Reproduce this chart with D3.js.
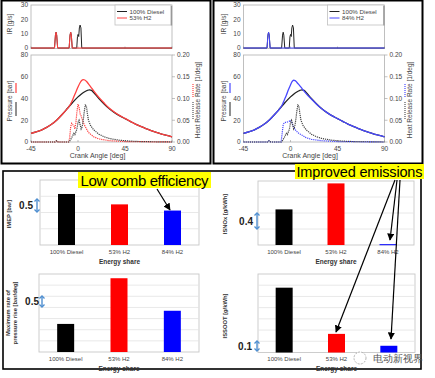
<!DOCTYPE html>
<html><head><meta charset="utf-8">
<script src="https://cdn.jsdelivr.net/npm/d3@7/dist/d3.min.js"></script>
<style>
body{margin:0;background:#fff}
svg{display:block}
text{font-family:"Liberation Sans",Arial,sans-serif}
</style>
</head><body>
<svg id="c" width="435" height="378"></svg>
<script>
// ---------------- DATA ----------------
const crankTicks = [-45, 0, 45, 90];
const irTicks = [0, 10, 20, 30];
const pressureTicks = [0, 20, 40, 60, 80];
const hrrTicks = [0, 0.05, 0.10, 0.15, 0.20];

const irDiesel = [[-45,0],[-22.5,0],[-21.6,9],[-21,11],[-20.4,9],[-19.5,0],[-8.5,0],[-7.6,9],[-7,11],[-6.4,9],[-5.5,0],[-1.2,0],[-0.5,8],[0.1,9.5],[0.7,8],[1.3,14],[2,16],[2.8,14],[3.6,0],[90,0]];
const irH2_53 = [[-45,0],[-22.5,0],[-21.6,9],[-21,11],[-20.4,9],[-19.5,0],[-8.5,0],[-7.6,9],[-7,11],[-6.4,9],[-5.5,0],[90,0]];
const irH2_84 = [[-45,0],[-22.5,0],[-21.6,9],[-21,11],[-20.4,9],[-19.5,0],[90,0]];

const pDiesel = [[-45,8],[-40,9.3],[-35,11],[-30,13.5],[-25,16.5],[-20,20.5],[-15,25.5],[-10,31],[-5,36.5],[0,41.5],[3,44],[6,46],[9,47.5],[11,48],[13,47.5],[15,45.5],[20,40],[25,35],[30,30.5],[35,27],[40,24],[45,21.5],[50,19],[55,16.5],[60,14.3],[65,12.3],[70,10.5],[75,8.8],[80,7.3],[85,6],[90,4.8]];
const pH2_53 = [[-45,8],[-40,9.3],[-35,11],[-30,13.5],[-25,16.5],[-20,20.5],[-15,25.5],[-10,31],[-8,33.5],[-6,37],[-4,41.5],[-2,46],[0,50.5],[2,54.5],[3.5,56.5],[5,57.3],[6.5,57],[8,55.8],[10,53.5],[12,51],[15,47],[20,41],[25,35.8],[30,31],[35,27.3],[40,24.2],[45,21.7],[50,19],[55,16.5],[60,14.3],[65,12.3],[70,10.5],[75,8.8],[80,7.3],[85,6],[90,4.8]];
const pH2_84 = [[-45,8],[-40,9.3],[-35,11],[-30,13.5],[-25,16.5],[-20,20.5],[-15,25.5],[-10,31],[-8,34],[-6,38.5],[-4,43],[-2,48],[0,52.5],[1.5,55.5],[3,56.8],[4.5,56.5],[6,55],[8,52.8],[10,50.5],[12,48],[15,44.5],[20,39.5],[25,34.8],[30,30.5],[35,27],[40,24],[45,21.5],[50,19],[55,16.5],[60,14.3],[65,12.3],[70,10.5],[75,8.8],[80,7.3],[85,6],[90,4.8]];

const hrrDiesel = [[-45,0],[-22,0],[-20.5,0.003],[-19,0],[-9,0],[-8,0.002],[-6,0.01],[-4,0.02],[-3,0.017],[-1,0.03],[0,0.045],[1,0.05],[2,0.04],[3,0.03],[4,0.035],[5,0.05],[6,0.07],[7,0.085],[8,0.083],[9,0.065],[10,0.05],[12,0.038],[15,0.028],[20,0.018],[25,0.012],[30,0.008],[40,0.004],[50,0.002],[60,0.001],[90,0]];
const hrrH2_53 = [[-45,0],[-22,0],[-20.5,0.003],[-19,0],[-9,0],[-8,0.01],[-7,0.035],[-6,0.043],[-5,0.04],[-4,0.038],[-3,0.03],[-2,0.045],[-1,0.07],[0,0.087],[1,0.08],[2,0.065],[3,0.06],[5,0.045],[7,0.035],[10,0.022],[15,0.012],[20,0.007],[30,0.003],[45,0.001],[90,0]];
const hrrH2_84 = [[-45,0],[-22,0],[-20.5,0.003],[-19,0],[-9,0],[-8,0.02],[-7,0.04],[-6,0.044],[-5,0.045],[-3,0.046],[-1,0.048],[0,0.05],[1,0.047],[2,0.04],[4,0.03],[6,0.024],[8,0.02],[10,0.017],[15,0.01],[20,0.006],[30,0.003],[45,0.001],[90,0]];

const categories = ["100% Diesel", "53% H2", "84% H2"];
const imep = [7.57, 7.25, 7.06];
const maxPressureRise = [1.26, 3.31, 1.85];
const isnox = [0.89, 1.54, 0.02];
const issoot = [0.578, 0.166, 0.06];

// ---------------- DRAW ----------------
const svg = d3.select("#c");
const dieselCol = "#222", redCol = "#ff4040", blueCol = "#4848ff";
const barColors = ["#000000", "#ff0000", "#0000ff"];

function vtext(g, x, y, str, size, weight, fill) {
  g.append("text").attr("transform", `translate(${x},${y}) rotate(-90)`)
    .attr("text-anchor","middle").attr("font-size", size).attr("font-weight", weight||"normal")
    .attr("fill", fill||"#333").text(str);
}

function topPanel(x0, x1, irH2, pH2, hrrH2, col, legendLabel, labX, hrrLabX) {
  const g = svg.append("g");
  const x = d3.scaleLinear().domain([-45, 90]).range([x0, x1]);
  const yIR = d3.scaleLinear().domain([0, 30]).range([48, 5]);
  const yP = d3.scaleLinear().domain([0, 80]).range([142, 55]);
  const yH = d3.scaleLinear().domain([0, 0.2]).range([142, 55]);
  g.append("rect").attr("x", x0).attr("y", 5).attr("width", x1-x0).attr("height", 43.5)
    .attr("fill","none").attr("stroke","#b0b0b0").attr("stroke-width",0.8);
  g.append("rect").attr("x", x0).attr("y", 55).attr("width", x1-x0).attr("height", 87)
    .attr("fill","none").attr("stroke","#b0b0b0").attr("stroke-width",0.8);
  irTicks.forEach(t => {
    g.append("text").attr("x", x0-3).attr("y", yIR(t)+2.3).attr("text-anchor","end")
      .attr("font-size",6.5).attr("fill","#444").text(t);
  });
  pressureTicks.forEach(t => {
    g.append("text").attr("x", x0-3).attr("y", yP(t)+2.3).attr("text-anchor","end")
      .attr("font-size",6.5).attr("fill","#444").text(t);
  });
  hrrTicks.forEach(t => {
    g.append("line").attr("x1", x1).attr("x2", x1+3).attr("y1", yH(t)).attr("y2", yH(t)).attr("stroke","#999").attr("stroke-width",0.6);
    g.append("text").attr("x", x1+5).attr("y", yH(t)+2.3).attr("text-anchor","start")
      .attr("font-size",6.5).attr("fill","#444").text(d3.format(".2f")(t));
  });
  crankTicks.forEach(t => {
    g.append("text").attr("x", x(t)).attr("y", 151).attr("text-anchor","middle")
      .attr("font-size",6.5).attr("fill","#444").text(t);
    g.append("line").attr("x1", x(t)).attr("x2", x(t)).attr("y1", 142).attr("y2", 140).attr("stroke","#999").attr("stroke-width",0.6);
    g.append("line").attr("x1", x(t)).attr("x2", x(t)).attr("y1", 48.5).attr("y2", 46.5).attr("stroke","#999").attr("stroke-width",0.6);
  });
  g.append("text").attr("x", (x0+x1)/2-4).attr("y", 158).attr("text-anchor","middle")
    .attr("font-size",7).attr("fill","#444").text("Crank Angle [deg]");
  vtext(g, labX, 24, "IR [g/s]", 6.5, "normal", "#444");
  vtext(g, labX, 101, "Pressure [bar]", 6.5, "normal", "#444");
  g.append("line").attr("x1", labX+4).attr("x2", labX+4).attr("y1", 83).attr("y2", 93).attr("stroke", col).attr("stroke-width",1.2);
  g.append("line").attr("x1", labX+4).attr("x2", labX+4).attr("y1", 102).attr("y2", 116).attr("stroke", dieselCol).attr("stroke-width",1);
  vtext(g, hrrLabX, 100, "Heat Release Rate [1/deg]", 6.5, "normal", "#444");
  g.append("line").attr("x1", hrrLabX-7).attr("x2", hrrLabX-7).attr("y1", 84).attr("y2", 97).attr("stroke", col).attr("stroke-width",1.2).attr("stroke-dasharray","1,1");
  g.append("line").attr("x1", hrrLabX-7).attr("x2", hrrLabX-7).attr("y1", 102).attr("y2", 120).attr("stroke", "#555").attr("stroke-width",1.2).attr("stroke-dasharray","1,1");

  const lineIR = d3.line().x(d => x(d[0])).y(d => yIR(d[1]));
  const lineP = d3.line().x(d => x(d[0])).y(d => yP(d[1])).curve(d3.curveMonotoneX);
  const lineH = d3.line().x(d => x(d[0])).y(d => yH(d[1]));
  g.append("path").attr("d", lineIR(irDiesel)).attr("fill","none").attr("stroke",dieselCol).attr("stroke-width",1);
  g.append("path").attr("d", lineIR(irH2)).attr("fill","none").attr("stroke",col).attr("stroke-width",1);
  g.append("path").attr("d", lineH(hrrH2)).attr("fill","none").attr("stroke",col).attr("stroke-width",1.2).attr("stroke-dasharray","1.2,0.9");
  g.append("path").attr("d", lineH(hrrDiesel)).attr("fill","none").attr("stroke","#444").attr("stroke-width",1.2).attr("stroke-dasharray","1.2,0.9");
  g.append("path").attr("d", lineP(pDiesel)).attr("fill","none").attr("stroke",dieselCol).attr("stroke-width",1.3);
  g.append("path").attr("d", lineP(pH2)).attr("fill","none").attr("stroke",col).attr("stroke-width",1.3);
  const lx = x1 - 57;
  g.append("rect").attr("x", lx).attr("y", 5).attr("width", 56).attr("height", 20)
    .attr("fill","#fff").attr("stroke","#c0c0c0").attr("stroke-width",0.8);
  g.append("line").attr("x1", x1-0.5).attr("x2", x1-0.5).attr("y1", 6).attr("y2", 25.5).attr("stroke","#999").attr("stroke-width",1.3);
  [[dieselCol, "100% Diesel", 11.5], [col, legendLabel, 18]].forEach(([c, t, yy]) => {
    g.append("line").attr("x1", lx+2).attr("x2", lx+12).attr("y1", yy).attr("y2", yy).attr("stroke", c).attr("stroke-width",1);
    g.append("text").attr("x", lx+14.5).attr("y", yy+2.2).attr("font-size",6.2).attr("fill","#444").text(t);
  });
}

svg.append("rect").attr("x",1.5).attr("y",0.5).attr("width",209).attr("height",163).attr("fill","none").attr("stroke","#000").attr("stroke-width",2);
svg.append("rect").attr("x",213.5).attr("y",0.5).attr("width",209).attr("height",163).attr("fill","none").attr("stroke","#000").attr("stroke-width",2);
svg.append("rect").attr("x",3).attr("y",171).attr("width",418).attr("height",198).attr("fill","none").attr("stroke","#000").attr("stroke-width",1.6);

topPanel(31, 172, irH2_53, pH2_53, hrrH2_53, redCol, "53% H2", 12, 200);
topPanel(243.5, 384.5, irH2_84, pH2_84, hrrH2_84, blueCol, "84% H2", 226, 412);

function barChart(f, domain, step, values, labelLines, labX, labY, ann, hiddenLabels) {
  const g = svg.append("g");
  const x = d3.scalePoint().domain(categories).range([f.x0, f.x1]).padding(0.5);
  const y = d3.scaleLinear().domain(domain).range([f.y1, f.y0]);
  g.append("rect").attr("x", f.x0).attr("y", f.y0).attr("width", f.x1-f.x0).attr("height", f.y1-f.y0)
    .attr("fill","#fff").attr("stroke","#c8c8c8").attr("stroke-width",0.9);
  d3.range(domain[0]+step, domain[1]-step/2, step).forEach(v => {
    g.append("line").attr("x1", f.x0).attr("x2", f.x1).attr("y1", y(v)).attr("y2", y(v))
      .attr("stroke","#e2e2e2").attr("stroke-width",0.8);
  });
  g.selectAll(".bar").data(values).enter().append("rect")
    .attr("x", (d,i) => x(categories[i]) - 8.5).attr("width", 17)
    .attr("y", d => y(d)).attr("height", d => Math.max(1, f.y1 - y(d)))
    .attr("fill", (d,i) => barColors[i]);
  categories.forEach(c => {
    if (hiddenLabels && hiddenLabels.includes(c)) return;
    g.append("text").attr("x", x(c)).attr("y", f.y1+8.5).attr("text-anchor","middle")
      .attr("font-size",6).attr("fill","#444").text(c);
  });
  g.append("text").attr("x", (f.x0+f.x1)/2).attr("y", f.y1+18.5).attr("text-anchor","middle")
    .attr("font-size",6.5).attr("font-weight","bold").attr("fill","#333").text("Energy share");
  const n = labelLines.length;
  labelLines.forEach((t, i) => vtext(g, labX + (i - (n-1)/2)*7 + 2, labY, t, 5.8, "bold", "#333"));
  g.append("text").attr("x", ann.tx).attr("y", (ann.a0+ann.a1)/2+3.5).attr("text-anchor","end")
    .attr("font-family","Liberation Serif").attr("font-size",10).attr("font-weight","bold").attr("fill","#222").text(ann.label);
  const ac = "#4f8fd0";
  g.append("line").attr("x1", ann.ax).attr("x2", ann.ax).attr("y1", ann.a0+1).attr("y2", ann.a1-1).attr("stroke", ac).attr("stroke-width",1.4);
  g.append("path").attr("d", `M${ann.ax-2.5},${ann.a0+2.5} L${ann.ax},${ann.a0} L${ann.ax+2.5},${ann.a0+2.5}`).attr("fill","none").attr("stroke",ac).attr("stroke-width",1.3);
  g.append("path").attr("d", `M${ann.ax-2.5},${ann.a1-2.5} L${ann.ax},${ann.a1} L${ann.ax+2.5},${ann.a1-2.5}`).attr("fill","none").attr("stroke",ac).attr("stroke-width",1.3);
  return {x, y};
}

barChart({x0:40, x1:199, y0:180, y1:245}, [6, 8], 0.5, imep, ["IMEP [bar]"], 9, 214,
  {label:"0.5", tx:33, ax:37, a0:199, a1:212});
barChart({x0:39, x1:199, y0:274, y1:352}, [0, 3.5], 0.5, maxPressureRise, ["Maximum rate of", "pressure rise [bar/deg]"], 11.5, 313,
  {label:"0.5", tx:39, ax:42, a0:296, a1:307});
barChart({x0:258, x1:414, y0:181, y1:245}, [0, 1.6], 0.4, isnox, ["ISNOx [g/kWh]"], 225, 214,
  {label:"0.4", tx:253, ax:257, a0:213, a1:229});
// the "84% H2" label of this chart is hidden under the watermark in the reference
barChart({x0:258, x1:415, y0:274, y1:352.5}, [0, 0.7], 0.1, issoot, ["ISSOOT [g/kWh]"], 225, 316,
  {label:"0.1", tx:252, ax:257, a0:341, a1:351}, ["84% H2"]);

const defs = svg.append("defs");
defs.append("marker").attr("id","ah").attr("viewBox","0 0 10 10").attr("refX",9).attr("refY",5)
  .attr("markerWidth",6).attr("markerHeight",6).attr("orient","auto")
  .append("path").attr("d","M0,0 L10,5 L0,10 z").attr("fill","#000");
[[157,189,170,210],[397,180,390,240],[395,180,336,332],[400,180,391,339]].forEach(a => {
  svg.append("line").attr("x1",a[0]).attr("y1",a[1]).attr("x2",a[2]).attr("y2",a[3])
    .attr("stroke","#000").attr("stroke-width",1.2).attr("marker-end","url(#ah)");
});

svg.append("rect").attr("x",78).attr("y",172).attr("width",133).attr("height",16).attr("fill","#ffff00");
svg.append("text").attr("x",144.5).attr("y",185.5).attr("text-anchor","middle").attr("font-size",15).attr("fill","#000").attr("textLength",128).text("Low comb efficiency");
svg.append("rect").attr("x",295).attr("y",164).attr("width",129).attr("height",15).attr("fill","#ffff00");
svg.append("text").attr("x",359.5).attr("y",176.5).attr("text-anchor","middle").attr("font-size",14.5).attr("fill","#000").attr("textLength",126).text("Improved emissions");

svg.append("circle").attr("cx",360).attr("cy",358).attr("r",6).attr("fill","#fff").attr("stroke","#aaa").attr("stroke-width",0.9).attr("stroke-dasharray","2,1.2");
svg.append("text").attr("x",373).attr("y",362).attr("font-family","'Noto Sans CJK SC'").attr("font-size",9.5).attr("fill","#555").text("电动新视界");
</script>
</body></html>
